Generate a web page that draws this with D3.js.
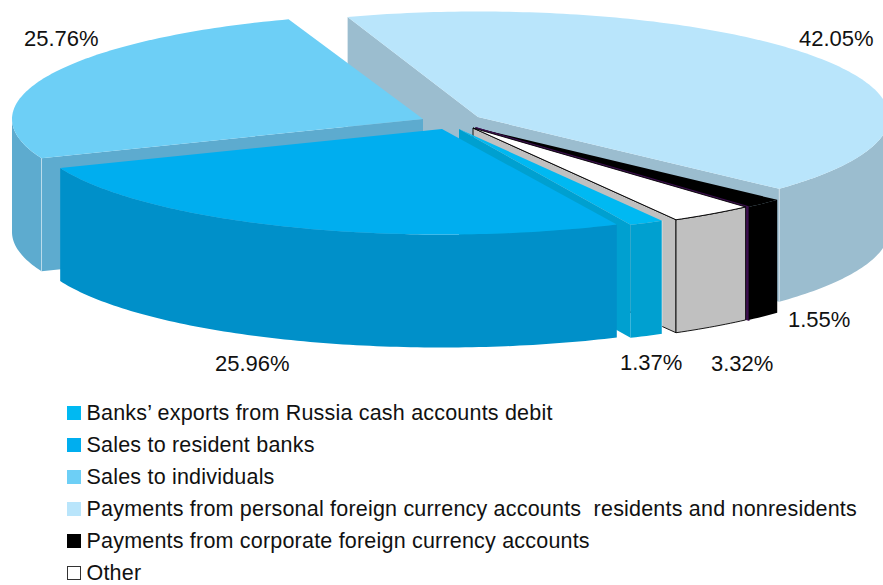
<!DOCTYPE html>
<html><head><meta charset="utf-8">
<script src="https://cdn.jsdelivr.net/npm/d3@7"></script>
<style>html,body{margin:0;padding:0;background:#fff}svg{display:block}text{font-family:"Liberation Sans",Arial,sans-serif;fill:#111}</style>
</head><body><svg id="c" width="883" height="585"></svg>
<script>
const categories = ["Banks’ exports from Russia cash accounts debit","Sales to resident banks","Sales to individuals","Payments from personal foreign currency accounts  residents and nonresidents","Payments from corporate foreign currency accounts","Other"];
const values = [1.37,25.96,25.76,42.05,1.55,3.32];
const valueLabels = ["1.37%","25.96%","25.76%","42.05%","1.55%","3.32%"];
// layout (separate from the data)
const topColors = ["#00b9f2","#00aeef","#6dcff6","#b9e5fb","#000000","#ffffff"];
const wallColors = ["#00a0d0","#0090c9","#5dabcf","#9bbdcf","#000000","#c0c0c0"];
const edgeColors = ["#00a0d0","#0090c9","#5dabcf","#9bbdcf","#3c0f4e","#c0c0c0"];
const apexes = [[459,129],[442,129],[423,119],[478,117],[476,128],[473,128]];
const turnDeg = [0,-0.5,-0.6,0,0,0];
const labelPos = [[620,370],[215,371],[24,46],[799,46],[788,327],[711,371]];
const paintOrder = [3,4,2,5,0,1];
const RX=411, RY=105.5, H=113, FONT_L=22, FONT_T=21.5, TRACK=0.2;
const x = d3.scaleLinear().domain([-1,1]).range([-RX,RX]);
const y = d3.scaleLinear().domain([-1,1]).range([-RY,RY]);
const pie = d3.pie().sort(null).startAngle(150.4*Math.PI/180).endAngle((150.4+360)*Math.PI/180);
const arcs = pie(values);
const svg = d3.select("#c");
const line = d3.line();
const pt = (i,t,dy=0)=>[apexes[i][0]+x(Math.cos(t)), apexes[i][1]+y(Math.sin(t))+dy];
const sample = (i,t0,t1,dy=0)=>{const n=Math.max(2,Math.ceil((t1-t0)*60));return d3.range(n+1).map(k=>pt(i,t0+(t1-t0)*k/n,dy));};
const g = svg.append("g");
paintOrder.forEach(i=>{
  const turn=turnDeg[i]*Math.PI/180;
  const t0=arcs[i].startAngle-Math.PI/2+turn, t1=arcs[i].endAngle-Math.PI/2+turn;
  const isOther = categories[i]==="Other";
  const isCorp = i===4;
  const st = isOther?"#000":null;
  const A=[apexes[i][0],apexes[i][1]];
  const wall=(a,b,stroke)=>{ // radial wall
    g.append("path").attr("d",line([A,pt(i,a),pt(i,a,H),[A[0],A[1]+H]])+"Z")
     .attr("fill",b).attr("stroke",stroke||st).attr("stroke-width",stroke?1.6:(st?0.9:null));
  };
  if(Math.cos(t0)<0) wall(t0,wallColors[i]);
  if(Math.cos(t1)>0) wall(t1,edgeColors[i],isCorp?edgeColors[i]:null);
  [[0,Math.PI],[2*Math.PI,3*Math.PI]].forEach(([lo,hi])=>{
    const a=Math.max(t0,lo), b=Math.min(t1,hi);
    if(b>a){
      const top=sample(i,a,b), bot=sample(i,a,b,H).reverse();
      g.append("path").attr("d",line(top.concat(bot))+"Z").attr("fill",wallColors[i])
       .attr("stroke",st).attr("stroke-width",st?0.9:null);
      if(i===0||i===2||i===3){
        const e = i===3?b:a;
        g.append("path").attr("d",line([pt(i,e),pt(i,e,H)])).attr("stroke","#fff").attr("stroke-width",0.6).attr("opacity",0.8);
      }
    }
  });
  g.append("path").attr("d",line([A].concat(sample(i,t0,t1)))+"Z").attr("fill",topColors[i])
   .attr("stroke",st).attr("stroke-width",st?0.9:null);
  if(isCorp) g.append("path").attr("d",line([A,pt(i,t1)])).attr("stroke",edgeColors[i]).attr("stroke-width",1.6).attr("fill","none");
});
svg.append("g").selectAll("text").data(valueLabels).join("text")
  .attr("x",(d,i)=>labelPos[i][0]).attr("y",(d,i)=>labelPos[i][1]).attr("font-size",FONT_L).text(d=>d);
const rowY=d3.scalePoint().domain(categories).range([413,573]);
const leg=svg.append("g").selectAll("g").data(categories).join("g").attr("transform",d=>`translate(0,${rowY(d)})`);
leg.append("rect").attr("x",(d,i)=>i===5?67.5:67).attr("y",(d,i)=>i===5?-6.5:-7).attr("width",(d,i)=>i===5?13:14).attr("height",(d,i)=>i===5?13:14)
  .attr("fill",(d,i)=>topColors[i]).attr("stroke",(d,i)=>i===5?"#333":null);
leg.append("text").attr("x",86.5).attr("y",7).attr("font-size",FONT_T).attr("letter-spacing",TRACK).style("white-space","pre").text(d=>d);
</script></body></html>
